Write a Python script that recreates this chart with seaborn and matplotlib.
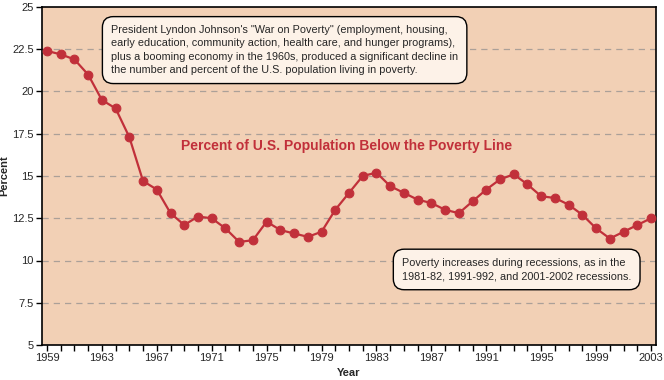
import matplotlib
matplotlib.use("Agg")
import matplotlib.pyplot as plt
import seaborn as sns
import pandas as pd

years = list(range(1959, 2004))
poverty_pct = [22.4, 22.2, 21.9, 21.0, 19.5, 19.0, 17.3, 14.7, 14.2, 12.8,
               12.1, 12.6, 12.5, 11.9, 11.1, 11.2, 12.3, 11.8, 11.6, 11.4,
               11.7, 13.0, 14.0, 15.0, 15.2, 14.4, 14.0, 13.6, 13.4, 13.0,
               12.8, 13.5, 14.2, 14.8, 15.1, 14.5, 13.8, 13.7, 13.3, 12.7,
               11.9, 11.3, 11.7, 12.1, 12.5]
y_ticks = [5, 7.5, 10, 12.5, 15, 17.5, 20, 22.5, 25]
y_tick_labels = ["5", "7.5", "10", "12.5", "15", "17.5", "20", "22.5", "25"]
x_label_years = list(range(1959, 2004, 4))

title_text = "Percent of U.S. Population Below the Poverty Line"
note1 = ("President Lyndon Johnson's \"War on Poverty\" (employment, housing,\n"
         "early education, community action, health care, and hunger programs),\n"
         "plus a booming economy in the 1960s, produced a significant decline in\n"
         "the number and percent of the U.S. population living in poverty.")
note2 = ("Poverty increases during recessions, as in the\n"
         "1981-82, 1991-992, and 2001-2002 recessions.")

df = pd.DataFrame({"Year": years, "Percent": poverty_pct})

sns.set_style("ticks")
plt.rcParams['font.family'] = ['Liberation Sans', 'DejaVu Sans']

red = "#C1303A"
fig = plt.figure(figsize=(6.64, 3.8), dpi=100)
ax = fig.add_axes([42/664, 35/380, (656-42)/664, (345-7)/380])
ax.set_facecolor("#F2D0B5")

for yv in y_ticks[1:-1]:
    ax.axhline(yv, color="#ABA098", lw=0.9, ls=(0, (5, 4)), zorder=1)

sns.lineplot(data=df, x="Year", y="Percent", ax=ax, color=red, lw=1.6,
             marker="o", markersize=6.3, markeredgecolor=red,
             markerfacecolor=red, zorder=3, clip_on=False)

ax.set_xlim(1958.64, 2003.36)
ax.set_ylim(5, 25)
ax.set_yticks(y_ticks)
ax.set_yticklabels(y_tick_labels)
ax.set_xticks(years)
ax.set_xticklabels([str(y) if y in x_label_years else "" for y in years])
ax.tick_params(axis="both", labelsize=8, length=4, width=1, color="black",
               direction="out", pad=2)
for s in ax.spines.values():
    s.set_color("black")
    s.set_linewidth(1.2)

ax.set_xlabel("Year", fontsize=8, fontweight="bold", labelpad=3)
ax.set_ylabel("Percent", fontsize=8, fontweight="bold", labelpad=2)

ax.text(1980.85, 16.75, title_text, color=red, fontsize=10,
        fontweight="bold", ha="center", va="center", zorder=4)

box_style = dict(boxstyle="round,pad=0.8,rounding_size=1.0",
                 facecolor="#FDF2E8", edgecolor="black", lw=1)
ax.text(1963.67, 22.45, note1, fontsize=7.8, ha="left", va="center",
        linespacing=1.4, bbox=box_style, zorder=5)
ax.text(1984.86, 9.47, note2, fontsize=7.8, ha="left", va="center",
        linespacing=1.4, bbox=box_style, zorder=5)

fig.savefig("out.png", dpi=100, facecolor="white")
